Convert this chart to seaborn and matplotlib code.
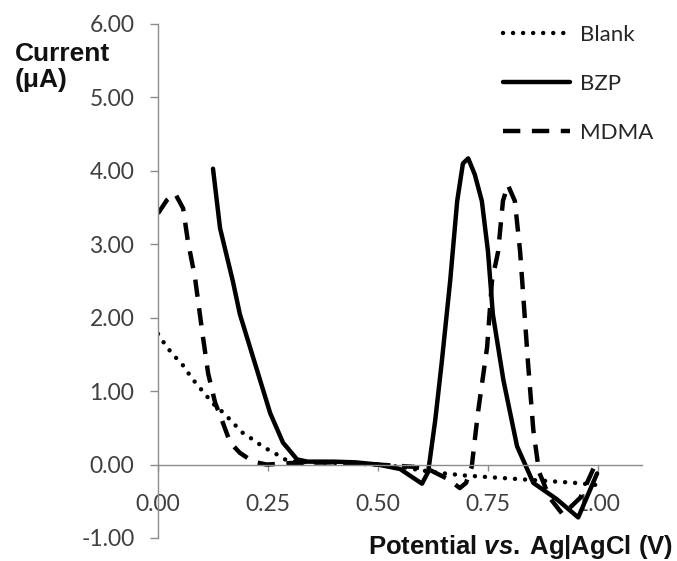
import numpy as np
import pandas as pd
import matplotlib
matplotlib.use("Agg")
import matplotlib.pyplot as plt
import seaborn as sns

# ---- data ----
blank_x = [0.0, 0.02, 0.04, 0.06, 0.075, 0.093, 0.111, 0.13, 0.15, 0.17, 0.193, 0.216, 0.239, 0.264,
           0.289, 0.31, 0.35, 0.40, 0.45, 0.50, 0.55, 0.60, 0.65, 0.70, 0.75, 0.80, 0.85, 0.90, 0.95, 1.00]
blank_y = [1.78, 1.60, 1.46, 1.33, 1.19, 1.06, 0.93, 0.80, 0.70, 0.57, 0.43, 0.34, 0.24, 0.16,
           0.07, 0.04, 0.03, 0.02, 0.01, 0.0, -0.03, -0.08, -0.12, -0.15, -0.17, -0.19, -0.21, -0.23, -0.25, -0.28]

bzp_x = [0.125, 0.141, 0.17, 0.186, 0.209, 0.232, 0.255, 0.284, 0.316, 0.34, 0.40, 0.45, 0.50, 0.55,
         0.58, 0.60, 0.614, 0.63, 0.645, 0.664, 0.68, 0.693, 0.705, 0.72, 0.736, 0.75, 0.761, 0.785,
         0.816, 0.853, 0.906, 0.955, 0.998]
bzp_y = [4.03, 3.22, 2.50, 2.05, 1.60, 1.15, 0.70, 0.30, 0.07, 0.04, 0.04, 0.03, 0.0, -0.06,
         -0.18, -0.26, -0.10, 0.60, 1.40, 2.50, 3.59, 4.10, 4.17, 3.95, 3.59, 2.90, 2.05, 1.15,
         0.25, -0.25, -0.47, -0.72, -0.12]

mdma_x = [0.0, 0.02, 0.039, 0.057, 0.068, 0.084, 0.10, 0.114, 0.13, 0.145, 0.164, 0.186, 0.216, 0.247,
          0.30, 0.40, 0.50, 0.58, 0.62, 0.66, 0.686, 0.70, 0.713, 0.727, 0.748, 0.759, 0.773, 0.784,
          0.795, 0.811, 0.823, 0.841, 0.853, 0.866, 0.89, 0.92, 0.96, 0.99, 1.0]
mdma_y = [3.42, 3.60, 3.69, 3.49, 3.04, 2.55, 1.83, 1.24, 0.84, 0.61, 0.30, 0.16, 0.04, 0.0,
          0.02, 0.03, 0.0, -0.03, -0.08, -0.20, -0.32, -0.25, -0.03, 0.70, 1.60, 2.50, 2.90, 3.59,
          3.81, 3.59, 2.90, 1.38, 0.47, -0.10, -0.45, -0.68, -0.45, -0.05, 0.02]

series_names = ["Blank", "BZP", "MDMA"]
x_ticks = [0.0, 0.25, 0.5, 0.75, 1.0]
y_ticks = [-1, 0, 1, 2, 3, 4, 5, 6]

# ---- style ----
sns.set_style("white")
plt.rcParams["font.family"] = ["Lato", "DejaVu Sans"]
plt.rcParams["mathtext.fontset"] = "custom"
plt.rcParams["mathtext.it"] = "Liberation Sans:italic:bold"
plt.rcParams["mathtext.rm"] = "Liberation Sans:bold"

fig = plt.figure(figsize=(6.77, 5.61), dpi=100)
W, H = 677, 561
x0, x1 = 158, 642
y_top, y_bot = 24, 538
ax = fig.add_axes([x0 / W, 1 - y_bot / H, (x1 - x0) / W, (y_bot - y_top) / H])

lw = 3.2
styles = {
    "Blank": dict(ls=(0, (0.01, 2.25)), cap="round"),
    "BZP": dict(ls="-", cap="butt"),
    "MDMA": dict(ls=(0, (3.9, 2.6)), cap="butt"),
}
data = {"Blank": (blank_x, blank_y), "BZP": (bzp_x, bzp_y), "MDMA": (mdma_x, mdma_y)}

for name in series_names:
    xs, ys = data[name]
    df = pd.DataFrame({"x": xs, "y": ys})
    n_before = len(ax.lines)
    sns.lineplot(data=df, x="x", y="y", ax=ax, color="black", sort=False,
                 estimator=None, linewidth=lw, label=name)
    line = ax.lines[n_before]
    line.set_linewidth(lw)
    line.set_linestyle(styles[name]["ls"])
    line.set_dash_capstyle(styles[name]["cap"])
    line.set_solid_capstyle("round")
    line.set_solid_joinstyle("round")

ax.set_xlim(0, 1.1)
ax.set_ylim(-1, 6)
ax.set_xticks(x_ticks)
ax.set_xticklabels([f"{v:.2f}" for v in x_ticks])
ax.set_yticks(y_ticks)
ax.set_yticklabels([f"{v:.2f}" for v in y_ticks])

for s in ["top", "right"]:
    ax.spines[s].set_visible(False)
ax.spines["bottom"].set_position(("data", 0))
axis_col = "#8c8c8c"
ax.spines["bottom"].set_color(axis_col)
ax.spines["left"].set_color(axis_col)
ax.spines["bottom"].set_linewidth(1.0)
ax.spines["left"].set_linewidth(1.0)
ax.tick_params(axis="y", direction="out", length=6, width=1.0, color=axis_col,
               labelsize=16.5, labelcolor="#404040", pad=11, left=True)
ax.tick_params(axis="x", direction="out", length=4, width=1.0, color=axis_col,
               labelsize=16.5, labelcolor="#404040", pad=17, bottom=True)
ax.set_xlabel("")
ax.set_ylabel("")

leg = ax.legend(loc="upper left", bbox_to_anchor=(503 / W, 1 - 25 / H),
                bbox_transform=fig.transFigure, frameon=False, fontsize=16,
                handlelength=3.0, handletextpad=0.45, labelspacing=1.3,
                borderpad=0, borderaxespad=0)
for t in leg.get_texts():
    t.set_color("#262626")

fig.text(15 / W, 1 - 42 / H, "Current\n(\u03bcA)", fontsize=19, fontweight="bold",
         family="Liberation Sans", ha="left", va="top", linespacing=1.1, color="#111111")
fig.text(673 / W, 1 - 554 / H, "Potential $\\it{vs.}$\u2009Ag|AgCl (V)", fontsize=18.5,
         fontweight="bold", family="Liberation Sans", ha="right", va="baseline", color="#111111")

fig.savefig("out.png", dpi=100)
